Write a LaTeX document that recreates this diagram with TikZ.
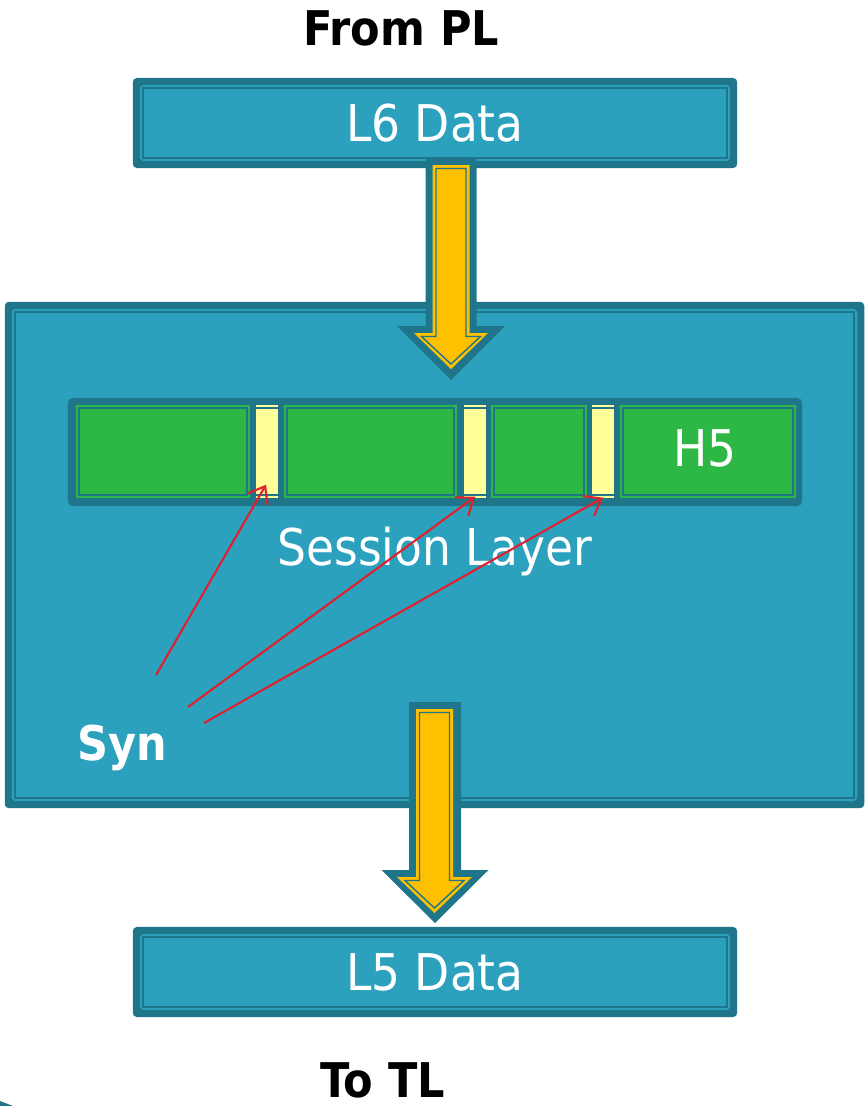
\documentclass[tikz,border=0pt]{standalone}
\usepackage{fontspec}
\usetikzlibrary{calc,arrows.meta}
\newfontfamily\labelfont{DejaVu Sans Condensed}
\newfontfamily\headfont{DejaVu Sans Condensed Bold}

\definecolor{boxblue}{HTML}{2CA1BE}
\definecolor{boxdark}{HTML}{1F768A}
\definecolor{blockgreen}{HTML}{2DB744}
\definecolor{flowyellow}{HTML}{FFC000}
\definecolor{syncpale}{HTML}{FFFF99}
\definecolor{pointerred}{HTML}{E21F2C}

% down-pointing block arrow: style, cx, top, shaft half-width, head base, head half-width, tip
\newcommand\blkarrow[7]{%
  \path[#1] (#2-#4,#3) -- (#2+#4,#3) -- (#2+#4,#5) -- (#2+#6,#5)
    -- (#2,#7) -- (#2-#6,#5) -- (#2-#4,#5) -- cycle;}

\tikzset{
  layerbox/.style={fill=boxdark, rounded corners=0.04cm, inner sep=0pt,
    text=white, font=\labelfont\fontsize{14.4}{16}\selectfont,
    path picture={
      \fill[boxblue] ($(path picture bounding box.south west)+(7,-7)$)
        rectangle ($(path picture bounding box.north east)+(-7,7)$);
      \draw[boxdark, line width=0.57pt, sharp corners]
        ($(path picture bounding box.south west)+(10,-10)$)
        rectangle ($(path picture bounding box.north east)+(-10,10)$);
    }},
  strip/.style={fill=boxdark, rounded corners=0.05cm, inner sep=0pt},
  greenblock/.style={fill=blockgreen, draw=blockgreen, double=boxdark,
    line width=0.57pt, double distance=0.57pt, inner sep=0pt,
    minimum height=0.87cm, text=white,
    font=\labelfont\fontsize{14.4}{16}\selectfont},
  syncbar/.style={fill=syncpale, inner sep=0pt, minimum width=0.22cm,
    minimum height=0.93cm,
    path picture={
      \draw[boxdark, line width=0.57pt]
        ($(path picture bounding box.north west)+(0,3)$) -- ++(30,0);
      \draw[boxdark, line width=0.57pt]
        ($(path picture bounding box.south west)+(0,-3)$) -- ++(30,0);
    }},
  arrowdark/.style={fill=boxdark},
  arrowbody/.style={fill=flowyellow},
  arrowline/.style={draw=boxdark, line width=0.4pt, line join=miter},
  pointer/.style={draw=pointerred, line width=0.6pt,
    -{Straight Barb[length=1.5mm, width=2.3mm, line width=0.6pt]}},
  heading/.style={font=\headfont\fontsize{13.6}{15}\selectfont, text=black,
    inner sep=0pt},
  plain/.style={font=\labelfont\fontsize{14.4}{16}\selectfont, text=white},
}

\begin{document}
\begin{tikzpicture}[x=0.01cm, y=-0.01cm]
\useasboundingbox (0,0) rectangle (866,1106);

% small corner piece at the lower left
\fill[boxdark] (0,1101) -- (13,1106) -- (0,1106) -- cycle;

% headings
\node[heading] (frompl) at (401,28) {From PL};
\node[heading] (totl) at (383,1080) {To TL};

% layer boxes
\node[layerbox, minimum width=6.04cm, minimum height=0.90cm] (l6) at (435,123) {L6 Data};
\node[layerbox, minimum width=8.59cm, minimum height=5.06cm] (session) at (434.5,555) {};
\node[layerbox, minimum width=6.04cm, minimum height=0.90cm] (l5) at (435,972) {L5 Data};

% session-layer data unit
\node[strip, minimum width=7.34cm, minimum height=1.08cm] (unit) at (435,452) {};
\node[greenblock, minimum width=1.68cm] (blk1) at (163,451.5) {};
\node[syncbar] (bar1) at (267,451.5) {};
\node[greenblock, minimum width=1.67cm] (blk2) at (370.5,451.5) {};
\node[syncbar] (bar2) at (475,451.5) {};
\node[greenblock, minimum width=0.90cm] (blk3) at (539,451.5) {};
\node[syncbar] (bar3) at (603,451.5) {};
\node[greenblock, minimum width=1.70cm] (blk4) at (708,451.5) {};
\node[plain] (h5) at (705,448) {H5};

\node[plain] (sesslabel) at (435,552) {Session Layer};
\node[heading, text=white] (syn) at (122,748) {Syn};

% flow arrows
\blkarrow{arrowdark}{451}{158}{25.5}{326}{54}{380}
\blkarrow{arrowbody}{451}{165}{18.5}{333}{37}{369}
\blkarrow{arrowline}{451}{168.5}{15}{336.5}{29.5}{364}

\blkarrow{arrowdark}{435}{702}{26}{870}{53.5}{923}
\blkarrow{arrowbody}{434.5}{709}{18.5}{877}{37.5}{913}
\blkarrow{arrowline}{434.5}{712.5}{15}{880.5}{29.5}{908}

% sync-point pointers
\coordinate (s1) at (156,675);
\coordinate (s2) at (188,707);
\coordinate (s3) at (204,723);
\draw[pointer] (s1) -- ($(bar1.south)+(-1,-14)$);
\draw[pointer] (s2) -- ($(bar2.south)+(0,-2)$);
\draw[pointer] (s3) -- ($(bar3.south)+(0,-1)$);
\end{tikzpicture}
\end{document}
